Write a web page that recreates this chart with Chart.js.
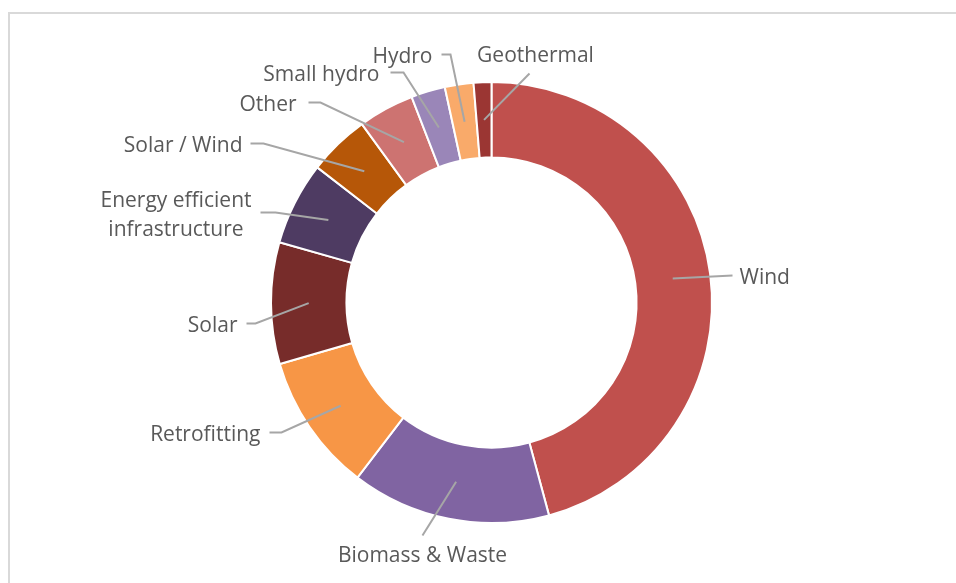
<!DOCTYPE html>
<html>
<head>
<meta charset="utf-8">
<script src="https://cdn.jsdelivr.net/npm/chart.js@4/dist/chart.umd.min.js"></script>
<style>
  html, body { margin: 0; padding: 0; background: #ffffff; }
  #wrap { position: relative; width: 956px; height: 583px; overflow: hidden; }
  #frame { position: absolute; left: 8px; top: 12px; width: 1000px; height: 700px;
           border-top: 2px solid #d9d9d9; border-left: 2px solid #d9d9d9; }
  canvas { position: absolute; left: 0; top: 0; }
</style>
</head>
<body>
<div id="wrap">
  <div id="frame"></div>
  <canvas id="c" width="956" height="583"></canvas>
</div>
<script>
// ---- data ----
const categories = ['Wind', 'Biomass & Waste', 'Retrofitting', 'Solar',
  ['Energy efficient', 'infrastructure'], 'Solar / Wind', 'Other', 'Small hydro', 'Hydro', 'Geothermal'];
const shares = [45.8, 14.6, 10.1, 8.9, 6.1, 4.5, 4.1, 2.5, 2.1, 1.3];
const sliceColors = ['#C0504D', '#8064A2', '#F79646', '#772C2A', '#4E3B62',
  '#B65708', '#CD7371', '#9A86B8', '#F9AA6A', '#9B3633'];

// ---- label layout (elbow offsets from chart centre, side of the text) ----
const labelLayout = [
  { dx: 241, dy: -27, side: 'right', stub: 0, gap: 7 },
  { dx: -69, dy: 233, side: 'below', gap: 8 },
  { dx: -210, dy: 130, side: 'left', stub: 12, gap: 9 },
  { dx: -236, dy: 21, side: 'left', stub: 9, gap: 9 },
  { dx: -216, dy: -90, side: 'left', stub: 15, gap: 9 },
  { dx: -228, dy: -159, side: 'left', stub: 13, gap: 8 },
  { dx: -171, dy: -200, side: 'left', stub: 12, gap: 12 },
  { dx: -88, dy: -230, side: 'left', stub: 13, gap: 11 },
  { dx: -41, dy: -248, side: 'left', stub: 9, gap: 9 },
  { dx: 38, dy: -229, side: 'above', gap: 9 }
];

const leaderPlugin = {
  id: 'leaders',
  afterDatasetsDraw(chart) {
    const ctx = chart.ctx;
    const meta = chart.getDatasetMeta(0);
    ctx.save();
    ctx.font = '21px "Open Sans"';
    ctx.fillStyle = '#595959';
    ctx.strokeStyle = '#A6A6A6';
    ctx.lineWidth = 2;
    const lineH = 29;
    meta.data.forEach((arc, i) => {
      const p = arc.getProps(['x', 'y', 'startAngle', 'endAngle', 'innerRadius', 'outerRadius'], true);
      const mid = (p.startAngle + p.endAngle) / 2;
      const r = (p.innerRadius + p.outerRadius) / 2;
      const sx = p.x + Math.cos(mid) * r;
      const sy = p.y + Math.sin(mid) * r;
      const L = labelLayout[i];
      const ex = p.x + L.dx, ey = p.y + L.dy;
      ctx.beginPath();
      ctx.moveTo(sx, sy);
      ctx.lineTo(ex, ey);
      const ty = ey + 3;
      if (L.side === 'left') {
        ctx.lineTo(ex - L.stub, ey);
      }
      ctx.stroke();
      const lines = Array.isArray(categories[i]) ? categories[i] : [categories[i]];
      ctx.textBaseline = 'middle';
      if (L.side === 'left' || L.side === 'right') {
        const w = Math.max(...lines.map(s => ctx.measureText(s).width));
        let cx;
        if (L.side === 'left') cx = ex - L.stub - L.gap - w / 2;
        else cx = ex + L.gap + w / 2;
        ctx.textAlign = 'center';
        const y0 = ty - (lines.length - 1) * lineH / 2;
        lines.forEach((s, k) => ctx.fillText(s, cx, y0 + k * lineH));
      } else if (L.side === 'below') {
        ctx.textAlign = 'center';
        ctx.fillText(lines[0], ex, ey + L.gap + 13);
      } else {
        ctx.textAlign = 'center';
        ctx.fillText(lines[0], ex + 6, ey - L.gap - 8);
      }
    });
    ctx.restore();
  }
};

new Chart(document.getElementById('c'), {
  type: 'doughnut',
  data: {
    labels: categories,
    datasets: [{
      data: shares,
      backgroundColor: sliceColors,
      borderColor: '#ffffff',
      borderWidth: 2
    }]
  },
  options: {
    responsive: false,
    devicePixelRatio: 1,
    animation: false,
    cutout: '65.8%',
    layout: { padding: { left: 270, right: 243, top: 81, bottom: 59 } },
    plugins: { legend: { display: false }, tooltip: { enabled: false } }
  },
  plugins: [leaderPlugin]
});
</script>
</body>
</html>
